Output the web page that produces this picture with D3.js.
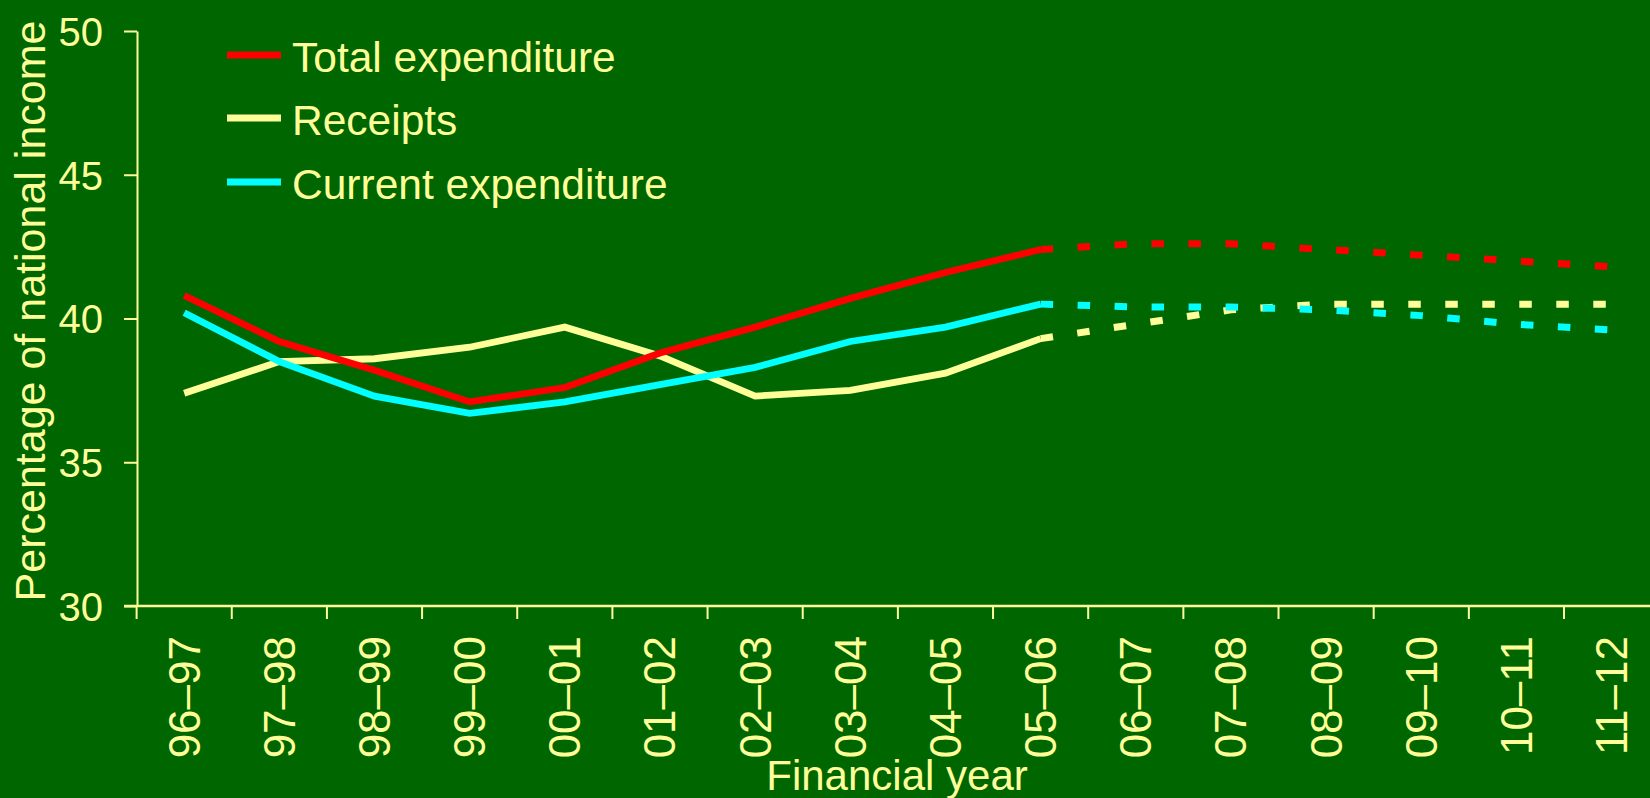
<!DOCTYPE html>
<html>
<head>
<meta charset="utf-8">
<script src="https://cdn.jsdelivr.net/npm/d3@7"></script>
<style>
  html, body { margin: 0; padding: 0; background: #006600; }
  svg { display: block; }
</style>
</head>
<body>
<div id="chart"></div>
<script>
// data (percentage of national income)
var years = ["96\u201397", "97\u201398", "98\u201399", "99\u201300", "00\u201301", "01\u201302", "02\u201303", "03\u201304",
             "04\u201305", "05\u201306", "06\u201307", "07\u201308", "08\u201309", "09\u201310", "10\u201311", "11\u201312"];
var totalExp   = [40.8, 39.2, 38.2, 37.1, 37.6, 38.8, 39.7, 40.7, 41.6, 42.4, 42.6, 42.6, 42.4, 42.2, 42.0, 41.8];
var receipts   = [37.4, 38.5, 38.6, 39.0, 39.7, 38.7, 37.3, 37.5, 38.1, 39.3, 39.8, 40.3, 40.5, 40.5, 40.5, 40.5];
var currentExp = [40.2, 38.5, 37.3, 36.7, 37.1, 37.7, 38.3, 39.2, 39.7, 40.5, 40.4, 40.4, 40.3, 40.1, 39.8, 39.6];
var yTicks = [30, 35, 40, 45, 50];
var lastOutturn = "05\u201306";   // solid up to here, dashed projections after

var seriesNames  = ["Total expenditure", "Receipts", "Current expenditure"];
var seriesColors = ["#ff0000", "#ffff99", "#00ffff"];

var width = 1650, height = 798;
var textColor = "#ffff99";
var font = "'Liberation Sans', Arial, sans-serif";

var svg = d3.select("#chart")
    .append("svg")
    .attr("width", width)
    .attr("height", height)
    .style("background", "#006600");

// scales
var x = d3.scaleBand()
    .domain(years)
    .range([136.6, 136.6 + 16 * 95.16])
    .padding(0);

var y = d3.scaleLinear()
    .domain([30, 50])
    .range([606, 31]);

// y axis
var yAxis = svg.append("g")
    .attr("transform", "translate(137,0)")
    .call(d3.axisLeft(y).tickValues(yTicks).tickSize(13).tickSizeOuter(0).tickPadding(21));

yAxis.select(".domain").attr("stroke", textColor).attr("stroke-width", 2);
yAxis.selectAll(".tick line").attr("stroke", textColor).attr("stroke-width", 2);
yAxis.selectAll(".tick text")
    .attr("fill", textColor)
    .attr("font-family", font)
    .attr("font-size", "40px")
    .attr("dy", "0.36em");

// x axis: ticks sit on the category boundaries, labels rotated
var xAxis = svg.append("g")
    .attr("transform", "translate(0,606)")
    .call(d3.axisBottom(x).tickSizeOuter(0).tickSize(13));

xAxis.select(".domain").remove();
xAxis.selectAll(".tick line")
    .attr("x1", -x.bandwidth() / 2)
    .attr("x2", -x.bandwidth() / 2)
    .attr("stroke", textColor)
    .attr("stroke-width", 2);
xAxis.selectAll(".tick text")
    .attr("fill", textColor)
    .attr("font-family", font)
    .attr("font-size", "44px")
    .attr("text-anchor", "end")
    .attr("transform", "translate(0,30) rotate(-90)")
    .attr("x", 0)
    .attr("y", 0)
    .attr("dy", "0.35em");

svg.append("line")
    .attr("x1", 124)
    .attr("x2", width)
    .attr("y1", 606)
    .attr("y2", 606)
    .attr("stroke", textColor)
    .attr("stroke-width", 2.5);

// axis titles
svg.append("text")
    .attr("transform", "translate(45,311) rotate(-90)")
    .attr("text-anchor", "middle")
    .attr("font-family", font)
    .attr("font-size", "43px")
    .attr("fill", textColor)
    .text("Percentage of national income");

svg.append("text")
    .attr("x", 897)
    .attr("y", 790)
    .attr("text-anchor", "middle")
    .attr("font-family", font)
    .attr("font-size", "42px")
    .attr("fill", textColor)
    .text("Financial year");

// lines
var line = d3.line()
    .x(function(d) { return x(d.year) + x.bandwidth() / 2; })
    .y(function(d) { return y(d.value); });

var cut = years.indexOf(lastOutturn);
var allSeries = [totalExp, receipts, currentExp];
var drawOrder = [1, 2, 0];

drawOrder.forEach(function(i) {
  var pts = years.map(function(yr, j) { return {year: yr, value: allSeries[i][j]}; });

  svg.append("path")
      .datum(pts.slice(0, cut + 1))
      .attr("d", line)
      .attr("fill", "none")
      .attr("stroke", seriesColors[i])
      .attr("stroke-width", 6.8)
      .attr("stroke-linejoin", "miter");

  svg.append("path")
      .datum(pts.slice(cut))
      .attr("d", line)
      .attr("fill", "none")
      .attr("stroke", seriesColors[i])
      .attr("stroke-width", 7)
      .attr("stroke-dasharray", "12.5,24.5");
});

// legend
var legend = svg.append("g");
var legendY = [55, 118, 182];

seriesNames.forEach(function(name, i) {
  legend.append("line")
      .attr("x1", 227)
      .attr("x2", 281)
      .attr("y1", legendY[i])
      .attr("y2", legendY[i])
      .attr("stroke", seriesColors[i])
      .attr("stroke-width", 7);

  legend.append("text")
      .attr("x", 292)
      .attr("y", legendY[i] + 17)
      .attr("font-family", font)
      .attr("font-size", "42.5px")
      .attr("fill", textColor)
      .text(name);
});
</script>
</body>
</html>
